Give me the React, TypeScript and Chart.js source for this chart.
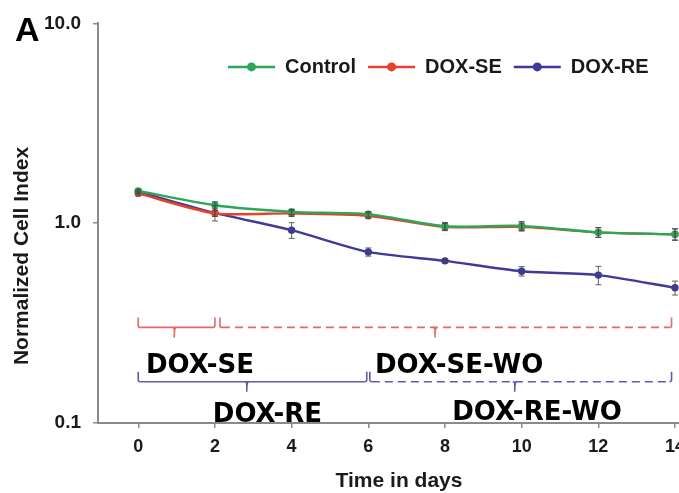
import React, { useEffect, useRef } from "react";
import { Chart, registerables } from "chart.js";

Chart.register(...registerables);

// ---------- data ----------
const days = [0, 2, 4, 6, 8, 10, 12, 14];
const controlValues = [1.45, 1.23, 1.14, 1.11, 0.966, 0.97, 0.9, 0.88];
const controlErrors = [0.03, 0.05, 0.035, 0.035, 0.043, 0.05, 0.05, 0.06];
const doxSeValues = [1.41, 1.12, 1.12, 1.09, 0.958, 0.958, 0.9, 0.88];
const doxSeErrors = [0.03, 0.04, 0.04, 0.035, 0.04, 0.045, 0.05, 0.055];
const doxReValues = [1.437, 1.126, 0.923, 0.718, 0.648, 0.575, 0.55, 0.475];
const doxReErrors = [0.03, 0.1, 0.083, 0.034, 0.015, 0.031, 0.058, 0.038];
const seriesLabels = ["Control", "DOX-SE", "DOX-RE"];
const seriesColors = ["#2aa858", "#e8402c", "#3f3a99"];
const xTicks = [0, 2, 4, 6, 8, 10, 12, 14];
const yTicks = [0.1, 1, 10];

// treatment-phase brackets (x in days, level in cell index units)
const bracketStart = [0, 2.13, 0, 6.04];
const bracketEnd = [2, 13.91, 5.96, 13.91];
const bracketMid = [0.94, 7.74, 2.83, 9.82];
const bracketLevel = [0.301, 0.301, 0.161, 0.161];
const bracketDashed = [false, true, false, true];
const bracketColors = ["#e06a66", "#e06a66", "#5f5caa", "#5f5caa"];

const phaseLabels = ["DOX-SE", "DOX-RE", "DOX-SE-WO", "DOX-RE-WO"];
const phaseLabelX = [1.61, 3.37, 8.37, 10.4];
const phaseLabelY = [0.178, 0.1015, 0.178, 0.1035];

const FONT = '"Liberation Sans", Arial, Helvetica, sans-serif';

const seriesValues = [controlValues, doxSeValues, doxReValues];
const seriesErrors = [controlErrors, doxSeErrors, doxReErrors];

const extrasPlugin = {
  id: "extras",
  afterDatasetsDraw(chart: any) {
    const ctx = chart.ctx;
    const X = chart.scales.x;
    const Y = chart.scales.y;
    // error bars
    ctx.save();
    ctx.strokeStyle = "rgba(70,70,70,0.85)";
    ctx.lineWidth = 1;
    seriesValues.forEach((vals, si) => {
      vals.forEach((v, i) => {
        const e = seriesErrors[si][i];
        const px = X.getPixelForValue(days[i]);
        const y1 = Y.getPixelForValue(v + e);
        const y2 = Y.getPixelForValue(v - e);
        ctx.beginPath();
        ctx.moveTo(px, y1);
        ctx.lineTo(px, y2);
        ctx.moveTo(px - 3, y1);
        ctx.lineTo(px + 3, y1);
        ctx.moveTo(px - 3, y2);
        ctx.lineTo(px + 3, y2);
        ctx.stroke();
      });
    });
    ctx.restore();
  },
  afterDraw(chart: any) {
    const ctx = chart.ctx;
    const X = chart.scales.x;
    const Y = chart.scales.y;
    const area = chart.chartArea;
    ctx.save();
    // brackets
    bracketStart.forEach((xs, i) => {
      const x0 = X.getPixelForValue(xs);
      const x1 = X.getPixelForValue(bracketEnd[i]);
      const xm = X.getPixelForValue(bracketMid[i]);
      const y = Y.getPixelForValue(bracketLevel[i]);
      ctx.strokeStyle = bracketColors[i];
      ctx.lineWidth = 1.6;
      ctx.setLineDash(bracketDashed[i] ? [8, 5] : []);
      ctx.beginPath();
      ctx.moveTo(x0 + 2, y);
      ctx.lineTo(x1 - 2, y);
      ctx.stroke();
      ctx.setLineDash([]);
      ctx.beginPath();
      ctx.moveTo(x0, y - 10);
      ctx.lineTo(x0, y - 2);
      ctx.quadraticCurveTo(x0, y, x0 + 2, y);
      ctx.moveTo(x1, y - 10);
      ctx.lineTo(x1, y - 2);
      ctx.quadraticCurveTo(x1, y, x1 - 2, y);
      ctx.moveTo(xm - 2, y);
      ctx.quadraticCurveTo(xm, y, xm, y + 2);
      ctx.lineTo(xm, y + 10);
      ctx.quadraticCurveTo(xm, y, xm + 2, y);
      ctx.stroke();
    });
    // phase labels
    ctx.fillStyle = "#000";
    ctx.font = 'bold 26px "DejaVu Sans", sans-serif';
    ctx.textAlign = "center";
    ctx.textBaseline = "alphabetic";
    phaseLabels.forEach((t, i) => {
      ctx.fillText(t, X.getPixelForValue(phaseLabelX[i]), Y.getPixelForValue(phaseLabelY[i]));
    });
    // legend
    ctx.font = `bold 20px ${FONT}`;
    ctx.textAlign = "left";
    ctx.textBaseline = "middle";
    let lx = area.left + 130;
    const ly = area.top + 43.5;
    chart.data.datasets.forEach((ds: any) => {
      ctx.strokeStyle = ds.borderColor;
      ctx.lineWidth = 2.5;
      ctx.beginPath();
      ctx.moveTo(lx, ly);
      ctx.lineTo(lx + 47, ly);
      ctx.stroke();
      ctx.fillStyle = ds.borderColor;
      ctx.beginPath();
      ctx.arc(lx + 23.5, ly, 4.5, 0, Math.PI * 2);
      ctx.fill();
      ctx.fillStyle = "#1a1a1a";
      ctx.fillText(ds.label, lx + 57, ly + 1);
      lx += 57 + ctx.measureText(ds.label).width + 12;
    });
    // axis titles
    ctx.fillStyle = "#1a1a1a";
    ctx.textAlign = "center";
    ctx.font = `bold 21px ${FONT}`;
    ctx.fillText("Time in days", area.left + 301, 481);
    ctx.save();
    ctx.translate(22.5, 256);
    ctx.rotate(-Math.PI / 2);
    ctx.font = `bold 21px ${FONT}`;
    ctx.fillText("Normalized Cell Index", 0, 0);
    ctx.restore();
    // panel letter
    ctx.fillStyle = "#000";
    ctx.textAlign = "left";
    ctx.textBaseline = "alphabetic";
    ctx.font = `bold 34px ${FONT}`;
    ctx.fillText("A", 15, 41);
    ctx.restore();
  },
};

export default function App() {
  const ref = useRef<HTMLCanvasElement | null>(null);
  useEffect(() => {
    if (!ref.current) return;
    const chart = new Chart(ref.current, {
      type: "line",
      data: {
        datasets: seriesLabels.map((label, si) => ({
          label,
          data: days.map((d, i) => ({ x: d, y: seriesValues[si][i] })),
          borderColor: seriesColors[si],
          backgroundColor: seriesColors[si],
          pointBackgroundColor: seriesColors[si],
          pointBorderColor: seriesColors[si],
          pointRadius: 2.5,
          borderWidth: 2.4,
          tension: 0.25,
          fill: false,
        })),
      },
      options: {
        animation: false,
        responsive: false,
        layout: { padding: { top: 22, right: 40, left: 0, bottom: 0 } },
        plugins: { legend: { display: false }, tooltip: { enabled: false } },
        scales: {
          x: {
            type: "linear",
            min: -1.05,
            max: 14.13,
            afterBuildTicks: (s: any) => {
              s.ticks = xTicks.map((v) => ({ value: v }));
            },
            afterFit: (s: any) => {
              s.height = 70;
            },
            ticks: {
              color: "#1a1a1a",
              font: { family: FONT, size: 18, weight: "bold" },
              padding: 8,
              callback: (v: any) => String(v),
            },
            grid: { drawOnChartArea: false, tickLength: 5, color: "#8a8a8a", lineWidth: 1.5 },
            border: { color: "#8a8a8a", width: 2 },
          },
          y: {
            type: "logarithmic",
            min: 0.1,
            max: 10,
            afterBuildTicks: (s: any) => {
              s.ticks = yTicks.map((v) => ({ value: v }));
            },
            afterFit: (s: any) => {
              s.width = 98;
            },
            ticks: {
              color: "#1a1a1a",
              font: { family: FONT, size: 19, weight: "bold" },
              padding: 12,
              callback: (v: any) => Number(v).toFixed(1),
            },
            grid: { drawOnChartArea: false, tickLength: 5, color: "#8a8a8a", lineWidth: 1.5 },
            border: { color: "#8a8a8a", width: 2 },
          },
        },
      } as any,
      plugins: [extrasPlugin],
    });
    return () => chart.destroy();
  }, []);
  return (
    <div
      style={{
        position: "fixed",
        left: 0,
        top: 0,
        width: 679,
        height: 493,
        overflow: "hidden",
        background: "#fff",
      }}
    >
      <canvas ref={ref} width={720} height={493} style={{ width: 720, height: 493, display: "block" }} />
    </div>
  );
}
